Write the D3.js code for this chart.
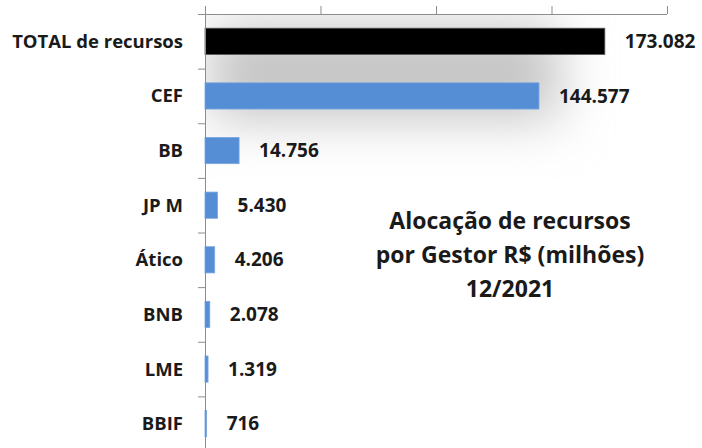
<!DOCTYPE html>
<html>
<head>
<meta charset="utf-8">
<script src="https://cdn.jsdelivr.net/npm/d3@7"></script>
<style>
  body { margin: 0; background: #fff; }
  svg { display: block; font-family: "Open Sans", sans-serif; font-weight: bold; }
  .axis path, .axis line { stroke: #8c8c8c; }
</style>
</head>
<body>
<svg width="702" height="448"></svg>
<script>
const categories = ["TOTAL de recursos", "CEF", "BB", "JP M", "Ático", "BNB", "LME", "BBIF"];
const values = [173082, 144577, 14756, 5430, 4206, 2078, 1319, 716];
const labels = ["173.082", "144.577", "14.756", "5.430", "4.206", "2.078", "1.319", "716"];
const titleLines = ["Alocação de recursos", "por Gestor R$ (milhões)", "12/2021"];

const svg = d3.select("svg");
const plot = {left: 205, right: 667, top: 14, bottom: 451};

const x = d3.scaleLinear().domain([0, 200000]).range([plot.left, plot.right]);
const y = d3.scaleBand().domain(categories).range([plot.top, plot.bottom]).paddingInner(0.52).paddingOuter(0.26);

// sombra difusa atras das barras maiores
const defs = svg.append("defs");
defs.append("filter").attr("id", "blur")
  .attr("x", "-60%").attr("y", "-100%").attr("width", "220%").attr("height", "300%")
  .append("feGaussianBlur").attr("stdDeviation", 26);
defs.append("clipPath").attr("id", "plotclip")
  .append("rect").attr("x", plot.left).attr("y", plot.top)
  .attr("width", plot.right - plot.left).attr("height", plot.bottom - plot.top);

svg.append("g").attr("clip-path", "url(#plotclip)")
  .append("rect")
  .attr("x", x(0) + 5)
  .attr("y", y(categories[0]) - 2)
  .attr("width", x(values[1]) - x(0) + 15)
  .attr("height", y(categories[1]) + y.bandwidth() - y(categories[0]) + 12)
  .attr("fill", "#c4c4c4")
  .attr("filter", "url(#blur)");

// barras
svg.append("g").selectAll("rect")
  .data(values)
  .join("rect")
  .attr("x", x(0))
  .attr("y", (d, i) => y(categories[i]))
  .attr("width", d => x(d) - x(0))
  .attr("height", y.bandwidth())
  .attr("fill", (d, i) => i === 0 ? "#000" : "#558ed5")
  .attr("stroke", (d, i) => i === 0 ? "#555" : "#7aa7df")
  .attr("stroke-width", 0.8);

// eixo superior
svg.append("g").attr("class", "axis")
  .attr("transform", `translate(0,${plot.top})`)
  .call(d3.axisTop(x).ticks(4).tickSize(8).tickSizeOuter(0).tickFormat(""))
  .call(g => g.select(".domain").attr("d", `M${plot.left - 7},0.5H${plot.right}`));

// eixo esquerdo, marcas entre categorias
const yb = d3.scaleLinear().domain([0, categories.length]).range([plot.top, plot.bottom]);
svg.append("g").attr("class", "axis")
  .attr("transform", `translate(${plot.left},0)`)
  .call(d3.axisLeft(yb).ticks(categories.length).tickSize(7).tickSizeOuter(0).tickFormat(""))
  .call(g => g.selectAll(".tick").filter(d => d === 0).remove());

// rotulos das categorias
svg.append("g").selectAll("text")
  .data(categories)
  .join("text")
  .attr("x", 183)
  .attr("y", d => y(d) + y.bandwidth() / 2)
  .attr("dy", "0.35em")
  .attr("text-anchor", "end")
  .attr("font-size", 18.5)
  .attr("fill", "#1a1a1a")
  .text(d => d);

// valores
svg.append("g").selectAll("text")
  .data(values)
  .join("text")
  .attr("x", d => x(d) + 20)
  .attr("y", (d, i) => y(categories[i]) + y.bandwidth() / 2)
  .attr("dy", "0.35em")
  .attr("font-size", 19)
  .attr("fill", "#1a1a1a")
  .text((d, i) => labels[i]);

// titulo
svg.append("g").selectAll("text")
  .data(titleLines)
  .join("text")
  .attr("x", 510)
  .attr("y", (d, i) => 221 + i * 34)
  .attr("dy", "0.35em")
  .attr("text-anchor", "middle")
  .attr("font-size", 23)
  .attr("fill", "#1a1a1a")
  .text(d => d);
</script>
</body>
</html>
